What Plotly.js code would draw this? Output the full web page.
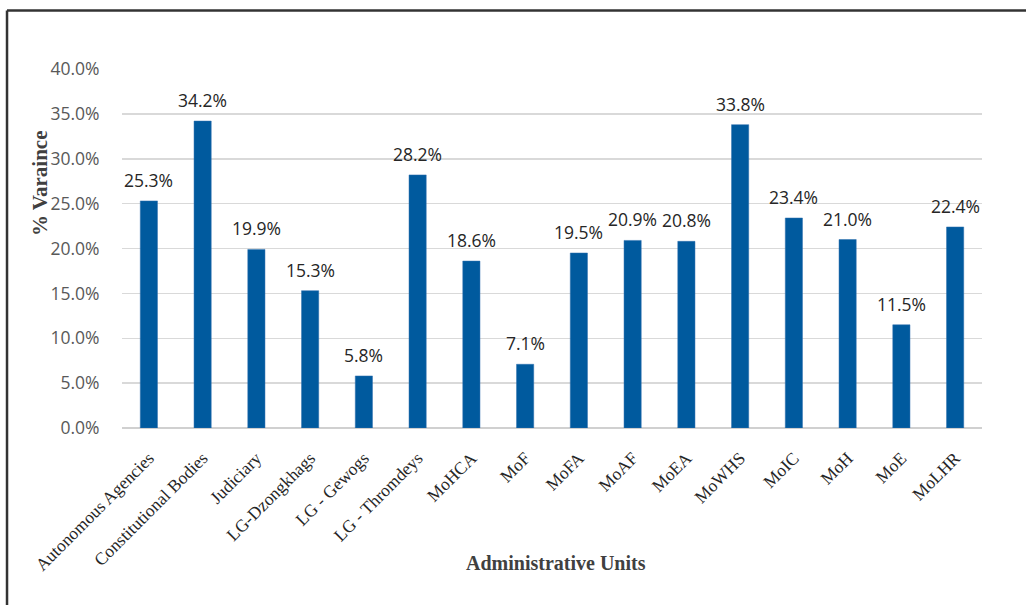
<!DOCTYPE html>
<html>
<head>
<meta charset="utf-8">
<script src="https://cdn.plot.ly/plotly-3.0.1.min.js"></script>
<style>html,body{margin:0;padding:0;background:#fff;}#chart{width:1026px;height:605px;}</style>
</head>
<body>
<div id="chart"></div>
<script>
const categories = ["Autonomous Agencies","Constitutional Bodies","Judiciary","LG-Dzongkhags","LG - Gewogs","LG - Thromdeys","MoHCA","MoF","MoFA","MoAF","MoEA","MoWHS","MoIC","MoH","MoE","MoLHR"];
const variance = [25.3, 34.2, 19.9, 15.3, 5.8, 28.2, 18.6, 7.1, 19.5, 20.9, 20.8, 33.8, 23.4, 21.0, 11.5, 22.4];
const yTickVals = [0, 5, 10, 15, 20, 25, 30, 35, 40];
const yTickText = yTickVals.map(v => v.toFixed(1) + "%");

const labelAnnotations = categories.map((c, i) => ({
  x: c, y: variance[i], xref: "x", yref: "y",
  text: variance[i].toFixed(1) + "%",
  showarrow: false, yanchor: "bottom", yshift: 7,
  font: {family: "Open Sans, sans-serif", size: 17.5, color: "#262626"}
}));

const trace = {
  type: "bar", x: categories, y: variance,
  marker: {color: "#005a9e", line: {color: "#2f6fae", width: 0.5}},
  hoverinfo: "skip"
};

const layout = {
  width: 1026, height: 605,
  margin: {l: 122, r: 44, t: 69, b: 177},
  paper_bgcolor: "#fff", plot_bgcolor: "#fff",
  bargap: 0.68,
  showlegend: false,
  xaxis: {
    type: "category", tickangle: -45, showgrid: false,
    ticks: "outside", ticklen: 12, tickcolor: "rgba(0,0,0,0)",
    tickfont: {family: "Liberation Serif, Times New Roman, serif", size: 17.5, color: "#262626"},
    showline: false, zeroline: false
  },
  yaxis: {
    range: [0, 40], tickvals: yTickVals, ticktext: yTickText,
    showgrid: true, gridcolor: "#d9d9d9", gridwidth: 1.5,
    zeroline: true, zerolinecolor: "#d0d0d0", zerolinewidth: 2,
    tickfont: {family: "Open Sans, sans-serif", size: 17.5, color: "#595959"},
    ticks: "outside", ticklen: 18, tickcolor: "rgba(0,0,0,0)", showline: false
  },
  annotations: labelAnnotations.concat([
    {text: "<b>Administrative Units</b>", xref: "paper", yref: "paper", x: 0.505, y: -0.375,
     showarrow: false, xanchor: "center", yanchor: "middle",
     font: {family: "Liberation Serif, Times New Roman, serif", size: 20, color: "#404040"}},
    {text: "<b>% Varaince</b>", xref: "paper", yref: "paper", x: -0.095, y: 0.683, textangle: -90,
     showarrow: false, xanchor: "center", yanchor: "middle",
     font: {family: "Liberation Serif, Times New Roman, serif", size: 21, color: "#404040"}}
  ]),
  shapes: [
    {type: "line", xref: "paper", yref: "paper", x0: -0.1337, x1: 1.06, y0: 1.163, y1: 1.163,
     line: {color: "#333", width: 2.5}},
    {type: "line", xref: "paper", yref: "paper", x0: -0.1337, x1: -0.1337, y0: 1.163, y1: -0.5,
     line: {color: "#333", width: 2.5}}
  ]
};

Plotly.newPlot("chart", [trace], layout, {displayModeBar: false, staticPlot: true});
</script>
</body>
</html>
